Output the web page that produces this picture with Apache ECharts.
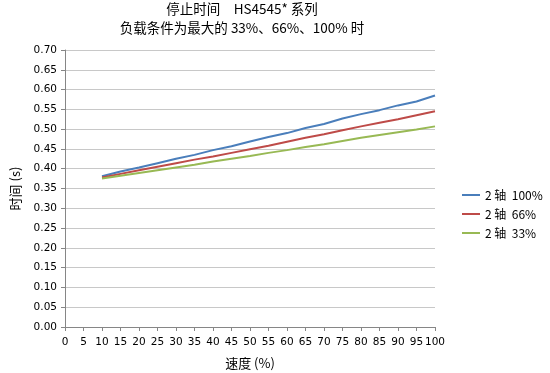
<!DOCTYPE html>
<html><head><meta charset="utf-8">
<script src="https://cdn.jsdelivr.net/npm/echarts@6/dist/echarts.min.js"></script>
<style>html,body{margin:0;padding:0;background:#fff}#c{width:550px;height:373px}</style>
</head><body><div id="c"></div>
<script>
const speeds = [10,15,20,25,30,35,40,45,50,55,60,65,70,75,80,85,90,95,100];
const load100 = [0.381,0.393,0.403,0.414,0.425,0.435,0.447,0.457,0.469,0.480,0.490,0.503,0.513,0.527,0.538,0.548,0.560,0.570,0.585];
const load66  = [0.378,0.387,0.396,0.405,0.414,0.423,0.431,0.440,0.449,0.458,0.468,0.478,0.487,0.497,0.507,0.516,0.525,0.535,0.545];
const load33  = [0.375,0.382,0.389,0.396,0.403,0.410,0.418,0.425,0.432,0.440,0.447,0.455,0.462,0.470,0.478,0.485,0.492,0.499,0.507];
const seriesNames = ['2 轴  100%','2 轴  66%','2 轴  33%'];
const colors = ['#4a7ebb','#be4b48','#98b954'];
const titleText = '停止时间　HS4545* 系列\n负载条件为最大的 33%、66%、100% 时';

const pair = (xs, ys) => xs.map((x,i)=>[x, ys[i]]);
const cjk = '"Noto Sans CJK SC", "DejaVu Sans", sans-serif';
const chart = echarts.init(document.getElementById('c'));
chart.setOption({
  animation:false,
  title:{text:titleText,left:237,textAlign:'center',top:-6,
    textStyle:{fontFamily:cjk,fontSize:13.5,fontWeight:'normal',color:'#000',lineHeight:19}},
  grid:{left:65,right:115,top:50,bottom:46,outerBoundsMode:'none',containLabel:false},
  legend:{orient:'vertical',left:457,top:184,itemGap:7,itemWidth:18,itemHeight:2,icon:'rect',
    textStyle:{fontFamily:cjk,fontSize:12,color:'#000'},
    data:seriesNames},
  xAxis:{type:'value',min:0,max:100,interval:5,
    name:'速度 (%)',nameLocation:'middle',nameGap:30,
    nameTextStyle:{fontFamily:cjk,fontSize:13,color:'#000'},
    axisLine:{lineStyle:{color:'#868686'}},
    axisTick:{show:true,length:4,lineStyle:{color:'#868686'}},
    axisLabel:{fontFamily:'"DejaVu Sans", sans-serif',fontSize:10.5,color:'#000',margin:10},
    splitLine:{show:false}},
  yAxis:{type:'value',min:0,max:0.7,interval:0.05,
    name:'时间 (s)',nameLocation:'middle',nameGap:43,nameRotate:90,
    nameTextStyle:{fontFamily:cjk,fontSize:13,color:'#000'},
    axisLine:{show:true,lineStyle:{color:'#868686'}},
    axisTick:{show:true,length:4,lineStyle:{color:'#868686'}},
    axisLabel:{fontFamily:'"DejaVu Sans", sans-serif',fontSize:10.5,color:'#000',margin:8,
      formatter:v=>v.toFixed(2)},
    splitLine:{show:true,lineStyle:{color:'#c8c8c8'}}},
  series:[
    {name:seriesNames[0],type:'line',data:pair(speeds,load100),showSymbol:false,lineStyle:{width:2,color:colors[0]},itemStyle:{color:colors[0]}},
    {name:seriesNames[1],type:'line',data:pair(speeds,load66),showSymbol:false,lineStyle:{width:2,color:colors[1]},itemStyle:{color:colors[1]}},
    {name:seriesNames[2],type:'line',data:pair(speeds,load33),showSymbol:false,lineStyle:{width:2,color:colors[2]},itemStyle:{color:colors[2]}}
  ]
});
</script></body></html>
